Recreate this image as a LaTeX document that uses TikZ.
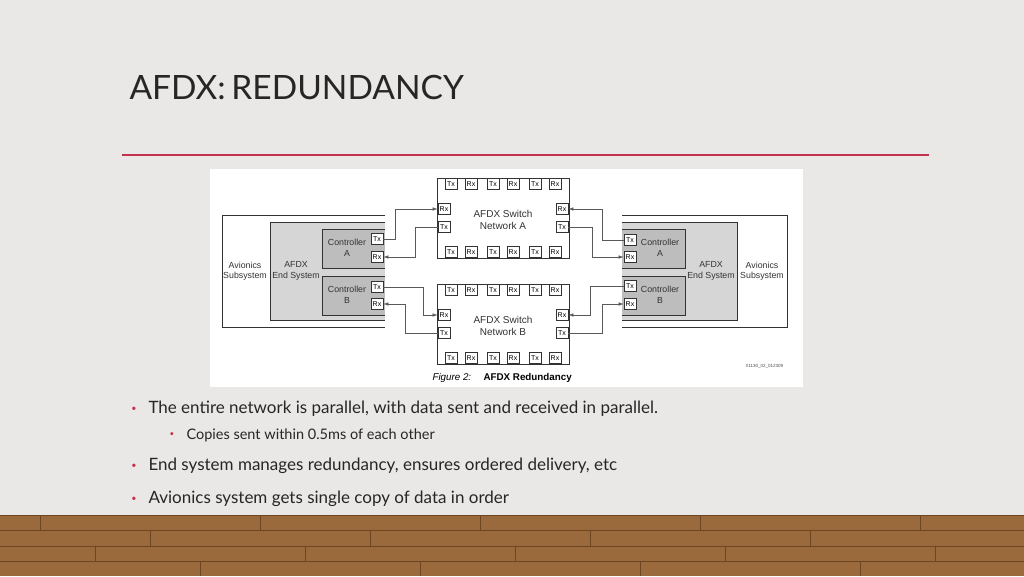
\documentclass[tikz,border=0pt]{standalone}
\usepackage{fontspec}
\setmainfont{Lato}
\newfontfamily\dfont{Liberation Sans}
\usetikzlibrary{arrows.meta}
\definecolor{bg}{HTML}{E9E8E6}
\definecolor{redline}{HTML}{C4314B}
\definecolor{wood}{HTML}{9A6A3C}
\definecolor{wooddark}{HTML}{6E4522}
\definecolor{esys}{HTML}{D6D6D6}
\definecolor{ctrl}{HTML}{BDBDBD}
\tikzset{
  port/.style={draw=black!80, fill=white, line width=0.7pt, minimum width=12pt, minimum height=11pt, inner sep=0pt, font=\dfont\fontsize{7}{7}\selectfont},
  dtext/.style={font=\dfont\fontsize{8.8}{10.5}\selectfont, align=center, text=black!80},
  link/.style={draw=black!65, line width=0.6pt},
  alink/.style={link, -{Latex[length=5pt,width=3.5pt]}},
  bul/.style={anchor=west, font=\fontsize{17}{20}\selectfont, text=black!85},
  sbul/.style={anchor=west, font=\fontsize{14.5}{17}\selectfont, text=black!85}
}
\begin{document}
\begin{tikzpicture}[x=1pt,y=-1pt]
\useasboundingbox (0,0) rectangle (1024,576);
\fill[bg] (0,0) rectangle (1024,576);
% floor
\fill[wood] (0,515) rectangle (1024,576);
\foreach \y in {515,530,546,561} \draw[wooddark,line width=0.8pt] (0,\y) -- (1024,\y);
\foreach \x in {40,260,480,700,920} \draw[wooddark,line width=0.6pt] (\x,515) -- (\x,530);
\foreach \x in {150,370,590,810} \draw[wooddark,line width=0.6pt] (\x,530) -- (\x,546);
\foreach \x in {95,305,515,725,935} \draw[wooddark,line width=0.6pt] (\x,546) -- (\x,561);
\foreach \x in {200,420,640,860} \draw[wooddark,line width=0.6pt] (\x,561) -- (\x,576);
% title
\node[anchor=west, font=\fontsize{33.5}{38}\selectfont, text=black!85] (title) at (126,88) {AFDX:\,REDUNDANCY};
\draw[redline, line width=2.5pt] (122,155) -- (929,155);
% panel
\fill[white] (210,169) rectangle (803,387);
% left side
\draw[black!80, line width=0.7pt] (385,215) -- (222,215) -- (222,327) -- (385,327);
\fill[esys] (270,222) rectangle (385,320);
\draw[black!80, line width=0.7pt] (385,222) -- (270,222) -- (270,320) -- (385,320);
\fill[ctrl] (322,229) rectangle (385,268);
\draw[black!80, line width=0.8pt] (385,229) -- (322,229) -- (322,268) -- (385,268);
\fill[ctrl] (322,276) rectangle (385,315);
\draw[black!80, line width=0.8pt] (385,276) -- (322,276) -- (322,315) -- (385,315);
\node[dtext] (lav) at (245,271) {Avionics\\Subsystem};
\node[dtext] (les) at (296,271) {AFDX\\End System};
\node[dtext] (lca) at (347,248) {Controller\\A};
\node[dtext] (lcb) at (347,295) {Controller\\B};
\node[port] (lAtx) at (377,239) {Tx};
\node[port] (lArx) at (377,257) {Rx};
\node[port] (lBtx) at (377,287) {Tx};
\node[port] (lBrx) at (377,304) {Rx};
% right side
\draw[black!80, line width=0.7pt] (622,215) -- (787,215) -- (787,327) -- (622,327);
\fill[esys] (622,222) rectangle (737,320);
\draw[black!80, line width=0.7pt] (622,222) -- (737,222) -- (737,320) -- (622,320);
\fill[ctrl] (622,229) rectangle (685,268);
\draw[black!80, line width=0.8pt] (622,229) -- (685,229) -- (685,268) -- (622,268);
\fill[ctrl] (622,276) rectangle (685,315);
\draw[black!80, line width=0.8pt] (622,276) -- (685,276) -- (685,315) -- (622,315);
\node[dtext] (rav) at (762,271) {Avionics\\Subsystem};
\node[dtext] (res) at (711,271) {AFDX\\End System};
\node[dtext] (rca) at (660,248) {Controller\\A};
\node[dtext] (rcb) at (660,295) {Controller\\B};
\node[port] (rAtx) at (630,240) {Tx};
\node[port] (rArx) at (630,257) {Rx};
\node[port] (rBtx) at (630,286) {Tx};
\node[port] (rBrx) at (630,304) {Rx};
% switches
\foreach \n/\t/\lab in {A/178/A,B/284/B}{
  \draw[black!80, line width=0.8pt, fill=white] (437,\t) rectangle (569,\t+80);
  \foreach \px/\pl [count=\i] in {451/Tx,471/Rx,493/Tx,513/Rx,535/Tx,555/Rx}{
    \node[port] (s\n top\i) at (\px,\t+6) {\pl};
    \node[port] (s\n bot\i) at (\px,\t+74) {\pl};}
  \node[dtext, font=\dfont\fontsize{10}{12.5}\selectfont] (s\n lab) at (503,\t+42) {AFDX Switch\\Network \lab};
}
\node[port] (sAlrx) at (444,209) {Rx};
\node[port] (sAltx) at (444,227) {Tx};
\node[port] (sArrx) at (562,209) {Rx};
\node[port] (sArtx) at (562,227) {Tx};
\node[port] (sBlrx) at (444,315) {Rx};
\node[port] (sBltx) at (444,333) {Tx};
\node[port] (sBrrx) at (562,315) {Rx};
\node[port] (sBrtx) at (562,333) {Tx};
% connectors left
\draw[alink] (lAtx.east) -- (395,239) |- (sAlrx.west);
\draw[alink] (sAltx.west) -- (415,227) |- (lArx.east);
\draw[alink] (lBtx.east) -- (423,287) |- (sBlrx.west);
\draw[alink] (sBltx.west) -- (405,333) |- (lBrx.east);
% connectors right
\draw[alink] (rAtx.west) -- (602,240) |- (sArrx.east);
\draw[alink] (sArtx.east) -- (592,227) |- (rArx.west);
\draw[alink] (rBtx.west) -- (590,286) |- (sBrrx.east);
\draw[alink] (sBrtx.east) -- (602,333) |- (rBrx.west);
% caption
\node[anchor=west, font=\dfont\itshape\fontsize{9.8}{11}\selectfont] (figlab) at (429,378) {Figure 2:};
\node[anchor=west, font=\dfont\bfseries\fontsize{9.8}{11}\selectfont] (figcap) at (480,378) {AFDX Redundancy};
\node[anchor=west, font=\dfont\fontsize{4.5}{5}\selectfont, text=black!70] (code) at (742,366) {X1130\_02\_012309};
% bullets
\node[text=redline, font=\fontsize{9}{10}\selectfont] (b1d) at (134,409) {\textbullet};
\node[bul] (b1) at (145,409) {The entire network is parallel, with data sent and received in parallel.};
\node[text=redline, font=\fontsize{8}{10}\selectfont] (b2d) at (172,435) {\textbullet};
\node[sbul] (b2) at (183,435) {Copies sent within 0.5ms of each other};
\node[text=redline, font=\fontsize{9}{10}\selectfont] (b3d) at (134,466) {\textbullet};
\node[bul] (b3) at (145,466) {End system manages redundancy, ensures ordered delivery, etc};
\node[text=redline, font=\fontsize{9}{10}\selectfont] (b4d) at (134,499) {\textbullet};
\node[bul] (b4) at (145,499) {Avionics system gets single copy of data in order};
\end{tikzpicture}
\end{document}
